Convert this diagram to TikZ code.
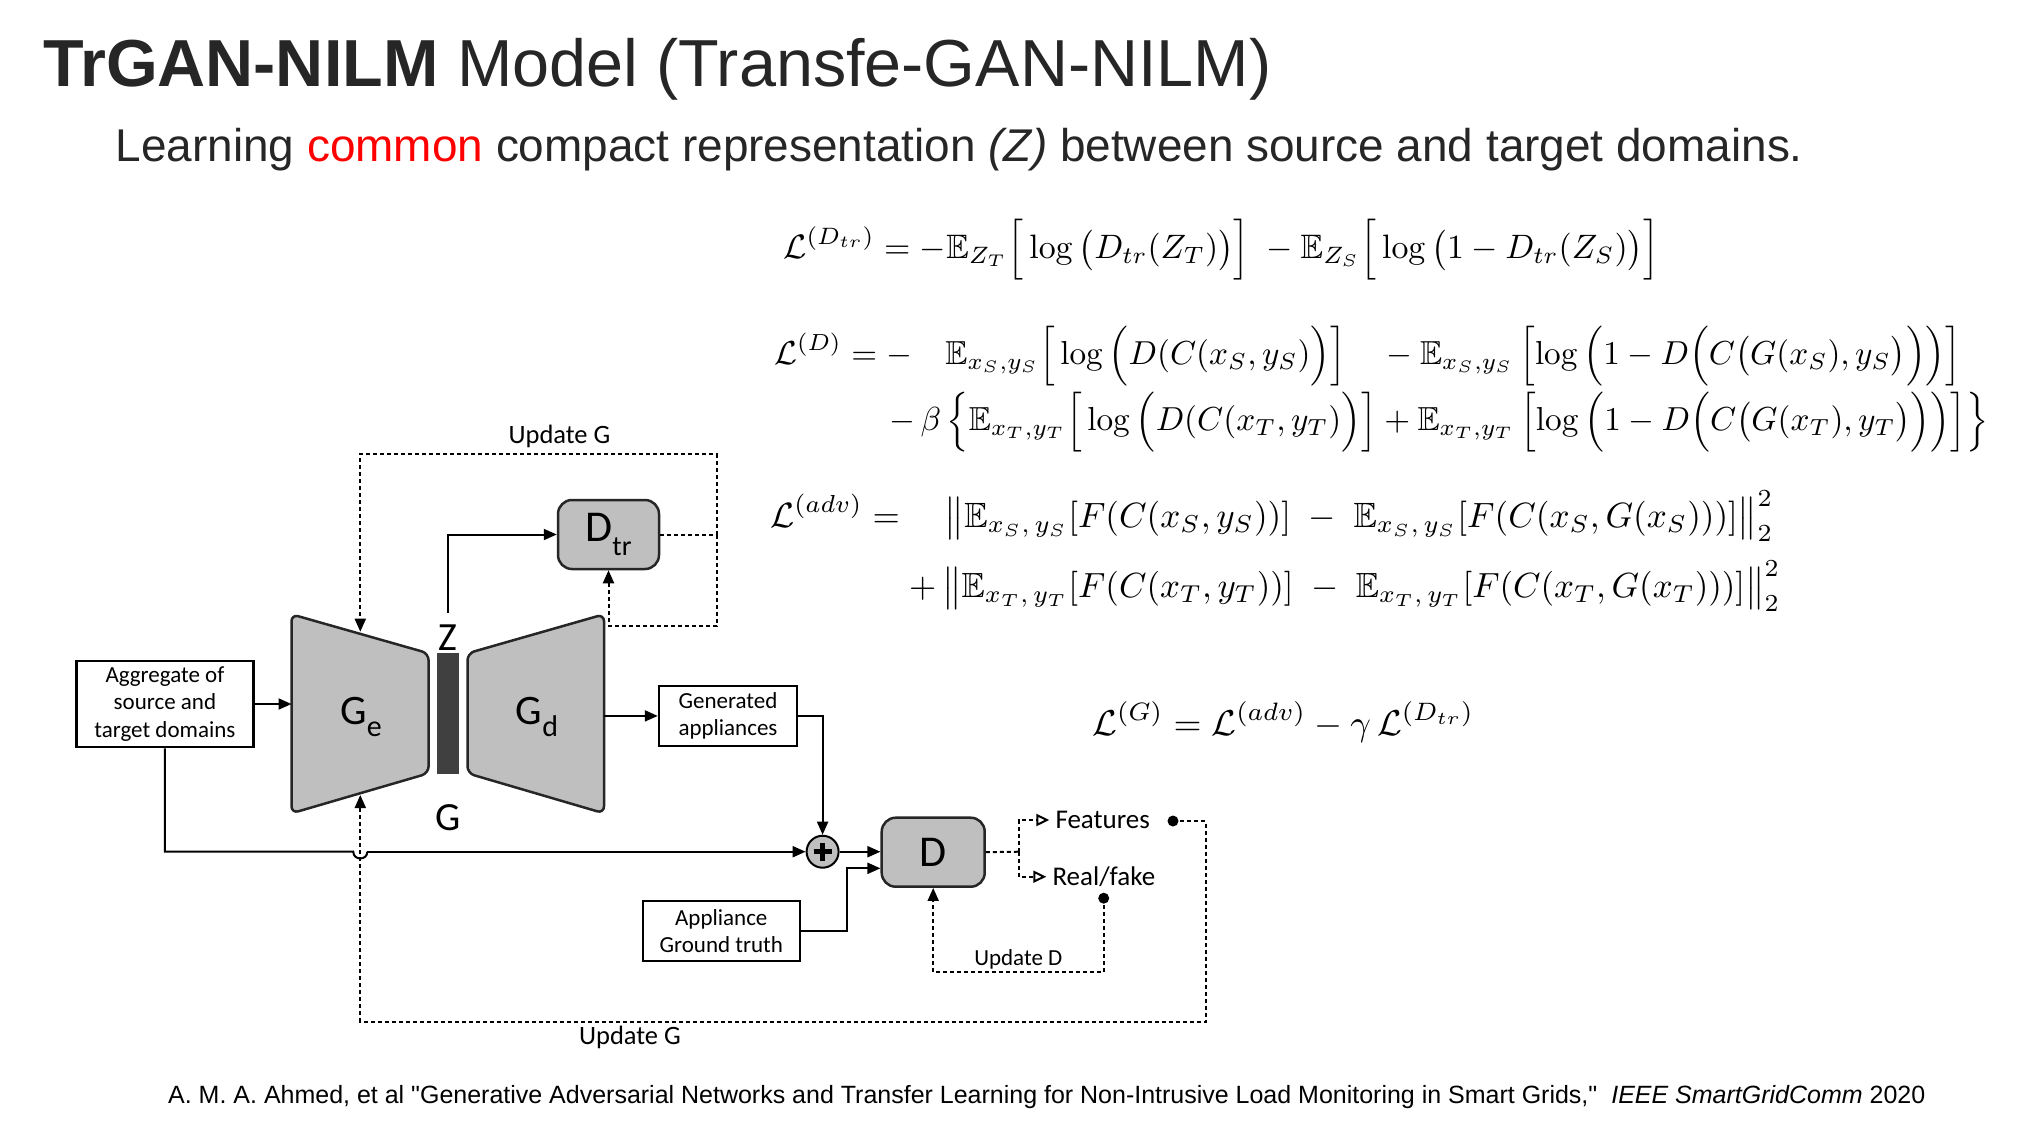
\documentclass[tikz,border=0pt]{standalone}
\usepackage{amsmath,amssymb}
\usepackage[no-math]{fontspec}
\usepackage{graphicx}
\setmainfont{Liberation Sans}
\newfontfamily\qfont{Liberation Sans}[Ligatures=TeXOff]
\newfontfamily\calib{Carlito}
\usetikzlibrary{arrows.meta}
\definecolor{txt}{HTML}{262626}
\definecolor{boxgray}{HTML}{BFBFBF}
\definecolor{bargray}{HTML}{404040}
\newcommand{\fs}[1]{\fontsize{#1}{1.2\dimexpr #1pt\relax}\selectfont}
\newcommand{\dq}{{\qfont\char"22}}
\begin{document}
\begin{tikzpicture}[x=1pt,y=-1pt,
  conn/.style={draw=black, line width=2pt, -{Triangle[length=13pt,width=11pt]}},
  plain/.style={draw=black, line width=2pt},
  dline/.style={draw=black, line width=2pt, dash pattern=on 4pt off 3pt},
  dconn/.style={dline, -{Triangle[length=13pt,width=11pt]}},
  dopen/.style={dline, -{Triangle[open,length=13pt,width=12pt]}},
  shapestyle/.style={draw=black!85, fill=boxgray, line width=2.5pt, rounded corners=7pt, line join=round},
  rbox/.style={draw=black!85, fill=boxgray, line width=2.5pt, rounded corners=14pt, inner sep=0, font=\calib\fs{44}},
  pbox/.style={draw=black, fill=white, line width=2.5pt, inner sep=0, align=center, font=\calib\fontsize{23}{27.5}\selectfont, text=black},
  lbl/.style={font=\calib\fs{26.5}, inner sep=0, text=black},
  eqn/.style={anchor=west, inner sep=0, text=black}
]
\path[use as bounding box] (0,0) rectangle (2036,1125);

% ---------- title, subtitle, citation ----------
\node[anchor=base west, inner sep=0, text=txt] (title) at (43,86)
  {\resizebox{1228pt}{!}{\textbf{TrGAN-NILM} Model (Transfe-GAN-NILM)}};
\node[anchor=base west, inner sep=0, text=txt] (subtitle) at (115.5,161)
  {\resizebox{1687pt}{!}{Learning \textcolor{red}{common} compact representation \textit{(Z)} between source and target domains.}};
\node[anchor=base west, inner sep=0, text=black] (cite) at (168,1103)
  {\resizebox{1757pt}{!}{A. M. A. Ahmed, et al \dq Generative Adversarial Networks and Transfer Learning for Non-Intrusive Load Monitoring in Smart Grids,\dq\ \ \textit{IEEE SmartGridComm} 2020}};

% ---------- equations ----------
\node[eqn] (eq1) at (783,250) {\resizebox{876pt}{!}{$\displaystyle
  \mathcal{L}^{(D_{tr})} = -\mathbb{E}_{Z_T}\Big[\log\big(D_{tr}(Z_T)\big)\Big]\; -\mathbb{E}_{Z_S}\Big[\log\big(1-D_{tr}(Z_S)\big)\Big]$}};
\node[eqn] (eq2a) at (774,356) {\resizebox{1187pt}{!}{$\displaystyle
  \mathcal{L}^{(D)} = -\quad \mathbb{E}_{x_S,y_S}\Big[\log\Big(D(C(x_S,y_S)\Big)\Big]\quad -\mathbb{E}_{x_S,y_S}\left[\log\left(1-D\Big(C\big(G(x_S),y_S\big)\Big)\right)\right]$}};
\node[eqn] (eq2b) at (889,422) {\resizebox{1099pt}{!}{$\displaystyle
  -\,\beta\left\{\mathbb{E}_{x_T,y_T}\Big[\log\Big(D(C(x_T,y_T)\Big)\Big] + \mathbb{E}_{x_T,y_T}\left[\log\left(1-D\Big(C\big(G(x_T),y_T\big)\Big)\right)\right]\right\}$}};
\node[eqn] (eq3a) at (770,516) {\resizebox{1003pt}{!}{$\displaystyle
  \mathcal{L}^{(adv)} = \quad \big\|\mathbb{E}_{x_S,\,y_S}[F(C(x_S,y_S))] \;-\; \mathbb{E}_{x_S,\,y_S}[F(C(x_S,G(x_S)))]\big\|_2^2$}};
\node[eqn] (eq3b) at (909,586) {\resizebox{871pt}{!}{$\displaystyle
  +\,\big\|\mathbb{E}_{x_T,\,y_T}[F(C(x_T,y_T))] \;-\; \mathbb{E}_{x_T,\,y_T}[F(C(x_T,G(x_T)))]\big\|_2^2$}};
\node[eqn] (eq4) at (1092,722) {\resizebox{382pt}{!}{$\displaystyle
  \mathcal{L}^{(G)} = \mathcal{L}^{(adv)} - \gamma\,\mathcal{L}^{(D_{tr})}$}};

% ---------- generator ----------
\draw[shapestyle] (291.5,614.3) -- (428.6,653.3) -- (428.6,773.3) -- (291.5,813.3) -- cycle;
\draw[shapestyle] (467.5,653.3) -- (604,614.3) -- (604,813.3) -- (467.5,773.3) -- cycle;
\node[fill=bargray, minimum width=22pt, minimum height=121pt, inner sep=0] (zbar) at (448,713.6) {};
\node[font=\calib\fs{42}, inner sep=0, text=black] (ge) at (361,716.7) {G\raisebox{-0.28em}{\fs{30}e}};
\node[font=\calib\fs{42}, inner sep=0, text=black] (gd) at (537,716.7) {G\raisebox{-0.28em}{\fs{30}d}};
\node[font=\calib\fs{40}, inner sep=0, text=black] (zl) at (448.3,638) {Z};
\node[font=\calib\fs{40}, inner sep=0, text=black] (gl) at (448.3,818) {G};

% ---------- boxes ----------
\node[pbox, minimum width=177pt, minimum height=86pt] (agg) at (164.9,704)
  {Aggregate of\\source and\\target domains};
\node[pbox, minimum width=138pt, minimum height=60pt] (gen) at (728,715.9)
  {Generated\\appliances};
\node[pbox, minimum width=157pt, minimum height=60pt] (app) at (721.3,930.9)
  {Appliance\\Ground truth};
\node[rbox, minimum width=101pt, minimum height=69pt] (dtr) at (608.5,534.5)
  {D\raisebox{-0.3em}{\fs{28}tr}};
\node[rbox, minimum width=103pt, minimum height=69pt] (d) at (933.2,852.2) {D};
\node[circle, draw=black, fill=boxgray, line width=2pt, minimum size=32pt, inner sep=0] (plus) at (822.6,851.7) {};
\draw[line width=4.5pt] ([xshift=-9pt]plus.center) -- ([xshift=9pt]plus.center);
\draw[line width=4.5pt] ([yshift=-9pt]plus.center) -- ([yshift=9pt]plus.center);

% ---------- output labels ----------
\node[lbl, font=\calib\fs{27}, anchor=west] (feat) at (1055.3,820) {Features};
\node[lbl, font=\calib\fs{27}, anchor=west] (real) at (1052.3,876.7) {Real/fake};
\node[lbl] (updg1) at (559.5,436.7) {Update G};
\node[lbl] (updg2) at (630,1037) {Update G};
\node[lbl, font=\calib\fs{23}] (updd) at (1018.3,959.3) {Update D};

% ---------- coordinates ----------
\coordinate (geL) at (291.5,704);
\coordinate (gdR) at (604,715.9);
\coordinate (ztop) at (448.3,613);
\coordinate (getop) at (360.3,631.7);
\coordinate (gebot) at (360.3,795);
\coordinate (junc) at (716.5,534.5);
\coordinate (lt) at (716.5,454);
\coordinate (lb) at (716.5,625.8);
\coordinate (hopL) at (353.3,851.7);
\coordinate (hopR) at (367.3,851.7);
\coordinate (fork) at (1019,851.7);
\coordinate (fdot) at (1173,821);
\coordinate (fr) at (1205.5,821);
\coordinate (fb) at (1205.5,1021.6);
\coordinate (rdot) at (1103.7,898.2);
\coordinate (rb) at (1103.7,972.2);
\coordinate (appV) at (847,868.3);

% ---------- solid connectors ----------
\draw[conn] (agg.east) -- (geL);
\draw[conn] (gdR) -- (gen.west);
\draw[conn] (gen.east) -| (plus.north);
\draw[plain] (agg.south) |- (hopL) .. controls ([yshift=-9pt]hopL) and ([yshift=-9pt]hopR) .. (hopR);
\draw[conn] (hopR) -- (plus.west);
\draw[conn] (plus.east) -- (plus.east -| d.west);
\draw[conn] (app.east) -| (appV) -- (appV -| d.west);
\draw[conn] (ztop) |- (dtr.west);

% ---------- dashed feedback ----------
\draw[dline] (dtr.east) -- (junc);
\draw[dconn] (junc) -- (lt) -| (getop);
\draw[dconn] (junc) -- (lb) -| (dtr.south);
\draw[dline] (d.east) -- (fork);
\draw[dopen, shorten >=6pt] (fork) |- (feat.west);
\draw[dopen, shorten >=6pt] (fork) |- (real.west);
\fill (fdot) circle (5.5pt);
\fill (rdot) circle (5.5pt);
\draw[dconn] (fdot) -- (fr) -- (fb) -| (gebot);
\draw[dconn] (rdot) -- (rb) -| (d.south);
\end{tikzpicture}
\end{document}
